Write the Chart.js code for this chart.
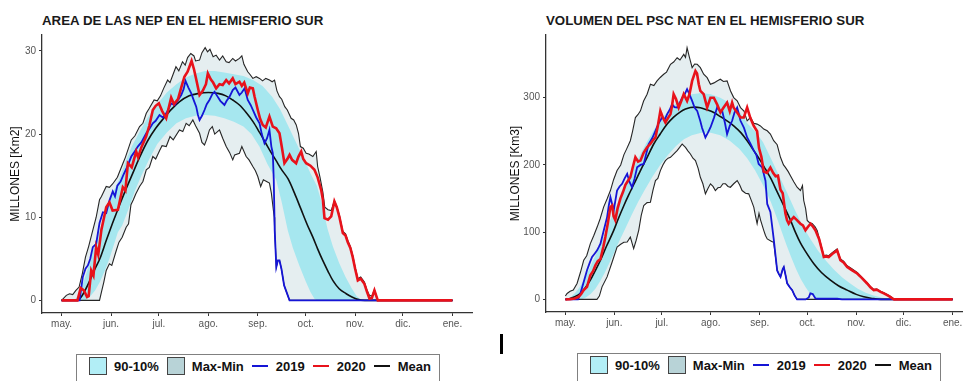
<!DOCTYPE html>
<html>
<head>
<meta charset="utf-8">
<script src="https://cdn.jsdelivr.net/npm/chart.js@4.4.1/dist/chart.umd.min.js"></script>
<style>
  html, body { margin: 0; padding: 0; width: 963px; height: 381px; overflow: hidden; background: #fff;
    font-family: Arial, "Liberation Sans", sans-serif; }
  canvas { position: absolute; top: 0; }
  .title { position: absolute; top: 13px; font-size: 13.3px; line-height: 16px; font-weight: bold; color: #1a1a1a; white-space: nowrap; }
  .legend { position: absolute; width: 364px; height: 40px; border: 1.5px solid #808080; background: #fff;
    box-sizing: border-box; padding: 2px 0 0 12px; display: flex; align-items: flex-start; white-space: nowrap; }
  .item { display: flex; align-items: center; height: 18px; font-weight: bold; font-size: 13px; color: #111; flex-shrink: 0; }
  .sq { width: 16px; height: 16px; border: 1.2px solid #444; margin-right: 7px; flex-shrink: 0; }
  .ln { width: 16px; height: 2.6px; margin-right: 8px; flex-shrink: 0; }
  .lab { margin-right: 8px; white-space: nowrap; }
  .bar { position: absolute; left: 500px; top: 334px; width: 3px; height: 20px; background: #000; }
</style>
</head>
<body>
<div class="title" style="left:42px">AREA DE LAS NEP EN EL HEMISFERIO SUR</div>
<div class="title" style="left:546px">VOLUMEN DEL PSC NAT EN EL HEMISFERIO SUR</div>
<canvas id="areaChart" width="480" height="340" style="left:0"></canvas>
<canvas id="volChart" width="472" height="340" style="left:500px"></canvas>
<div class="bar"></div>
<div class="legend" style="left:76px; top:354px"></div>
<div class="legend" style="left:577px; top:353px"></div>

<script>
// x axis: days counted from 1 May
const monthDays = [0, 31, 61, 92, 123, 153, 184, 214, 245];
const monthLabels = ['may.', 'jun.', 'jul.', 'ago.', 'sep.', 'oct.', 'nov.', 'dic.', 'ene.'];
const areaTicks = [0, 10, 20, 30];
const volTicks = [0, 100, 200, 300];
const legendLabels = ['90-10%', 'Max-Min', '2019', '2020', 'Mean'];

// AREA de las NEP (millones km2), [day, value]
const area2020 = [[0,0],[10,0],[12,1.5],[14,1.2],[16,0.4],[17,0.5],[18.6,3.6],[20,3.0],[21.7,6.4],[23,5.5],[25,8.5],[28,11.2],[30,11.8],[32,10.8],[35.3,10.9],[38.4,13.6],[40,13.2],[41.6,16.5],[44,16.0],[46.8,17.9],[48,17.2],[50,18.4],[53,19.7],[55,21.0],[57.2,22.9],[59,23.4],[61,23.7],[63,22.8],[65.6,21.9],[68.7,24.4],[70.5,23.6],[73,24.2],[75,25.6],[77,26.9],[79,27.5],[81.5,28.8],[83,27.8],[84.5,26.5],[86.5,24.7],[88.5,25.2],[90.5,26.0],[91.7,27.3],[93.5,26.6],[95,26.2],[96.9,25.5],[99,26.0],[101,25.9],[103.2,26.5],[105,26.1],[107.3,26.7],[109,26.0],[111.5,26.3],[113,25.8],[114.5,26.2],[116.7,24.9],[118,25.6],[119.9,25.5],[121,24.5],[123,22.9],[124.5,21.8],[126.1,21.1],[128,20.8],[130.3,22.1],[132.4,20.9],[134.5,20.7],[136.6,20.1],[138,18.5],[139.7,16.5],[141.5,17.0],[142.9,17.5],[144.5,16.9],[147,16.5],[148.5,17.3],[150.2,17.9],[151.5,17.0],[153.3,16.5],[156,16.2],[158.5,15.7],[160.5,14.8],[162.7,13.3],[163.8,12.1],[164.8,9.9],[167,9.7],[169,10.1],[171,11.9],[172.5,11.2],[174.2,10.0],[176.3,8.1],[178,7.8],[179.4,7.0],[181,6.3],[182.5,5.2],[184,3.8],[185.7,2.4],[187.5,2.6],[189.8,2.0],[191.5,1.0],[193,0.2],[194.5,0.3],[196.1,1.2],[198.2,0],[245,0]];
const area2019 = [[0,0],[11.3,0],[13.3,2.8],[15,3.8],[16.5,4.2],[18,5.0],[19.6,6.4],[21.7,6.8],[23.8,9.3],[25.9,10.6],[28,10.5],[30,12.0],[32.1,13.1],[33.5,12.5],[35,13.8],[37,14.3],[39,15.2],[41,16.0],[43.7,17.3],[45.5,17.8],[47.8,18.5],[50,19.0],[53.1,20.1],[55,20.6],[57.2,21.3],[59,21.6],[61.4,22.3],[63.5,22.0],[65.6,22.5],[67,23.0],[68.7,23.7],[71,23.5],[73,24.1],[75,24.7],[76.5,25.4],[77.7,26.4],[79.5,25.6],[81.3,24.9],[83,24.0],[84.4,23.3],[85.5,22.3],[86.5,21.7],[88,22.2],[89.6,22.9],[91,23.6],[92.7,24.1],[94.5,24.8],[95.9,25.1],[97.5,24.6],[99.5,24.0],[102.1,23.5],[103.5,24.0],[105.3,24.5],[107.3,25.3],[109,25.6],[111.5,24.7],[113,25.0],[114.7,25.5],[116.7,24.1],[118.5,23.5],[119.9,22.9],[122,22.0],[124.1,21.3],[125.5,20.0],[127.2,18.9],[128.8,19.5],[130.3,20.5],[131.5,18.5],[132.4,17.7],[133,14.5],[133.6,8.4],[134.6,4.0],[135.6,4.8],[136.6,4.8],[137.8,3.8],[139.5,1.8],[142.9,0],[245,0]];
const areaMean = [[0,0],[10,0],[12.3,0.4],[15,1.3],[18,2.5],[21,3.8],[24,5.0],[28,7.2],[32,9.3],[36,11.3],[40,13.2],[44,15.0],[48.9,17.2],[54,19.2],[59,20.7],[64,21.9],[69,23.0],[74,23.9],[80,24.6],[86,24.9],[92,25.0],[98,24.9],[103,24.6],[107.3,24.1],[111.5,23.5],[115.7,22.6],[120,21.5],[124.1,20.2],[128,18.9],[131,17.9],[134.5,16.8],[138,15.7],[142,14.6],[146,12.9],[150,11.0],[154,9.1],[157.5,7.6],[160.5,6.2],[163.7,4.8],[167,3.5],[170,2.4],[174,1.4],[178.4,0.8],[182,0.4],[185,0.15],[190,0],[245,0]];
const areaMax = [[0,0],[3,0.6],[5,0.8],[7,0.7],[9,1.2],[11,1.6],[13,3.2],[15,5.2],[17,6.5],[19,8.0],[21.7,10.0],[23.8,12.1],[25,12.5],[28,13.7],[30,13.6],[32,14.0],[35,14.8],[38.5,16.5],[40,17.2],[43.7,19.3],[46,19.8],[48.9,20.9],[51,21.3],[53.1,22.5],[55,23.1],[58,24.1],[60,24.0],[62,24.6],[64,25.5],[66.5,26.5],[68,26.2],[71.7,28.1],[73.5,27.6],[75.8,28.7],[77.5,28.3],[79,29.2],[81,29.7],[83,29.4],[84,28.8],[86.5,28.9],[88,29.8],[90,30.4],[91.5,29.9],[93,30.2],[95,29.3],[96.9,29.5],[99,28.9],[101,29.4],[103.2,28.7],[105,28.6],[107.3,29.1],[109,28.8],[111.5,29.1],[113,29.4],[114.3,28.4],[116.7,27.5],[118,27.2],[119.9,26.7],[122,26.9],[124.1,26.7],[126,26.4],[128,26.7],[130.3,26.5],[132,26.3],[133.5,26.5],[135,25.2],[136.6,24.5],[138,24.2],[139.9,23.3],[141.5,22.9],[143.9,21.9],[145.5,21.7],[147.1,21.1],[148.5,20.1],[149.7,18.5],[151.5,18.3],[153.3,17.7],[155,17.6],[157.5,17.3],[159.6,17.9],[160.5,16.1],[162,14.8],[163.8,13.0],[165,11.2],[167,10.9],[169,10.8],[171,12.0],[172.5,11.3],[174.2,10.2],[176.3,8.3],[178,8.0],[179.4,7.2],[181,6.5],[182.5,5.4],[184,4.0],[185.7,2.6],[187.5,2.8],[189.8,2.2],[191.5,1.2],[193,0.6],[194.5,0.5],[196.1,1.3],[198.2,0],[245,0]];
const areaMin = [[0,0],[23.8,0],[25,1.0],[26.5,2.2],[28,3.6],[30,4.4],[31.5,4.2],[34.3,6.0],[36,7.0],[38,7.6],[40.5,8.8],[42,9.2],[43.5,11.5],[45,12.1],[46.5,12.8],[48.9,13.7],[51,14.3],[53.1,15.7],[55,16.0],[57.2,17.3],[59,17.0],[61.4,18.0],[63,18.6],[65.6,18.5],[68,19.7],[70,19.3],[73.9,20.5],[76,20.3],[78.1,21.3],[80,21.0],[82.3,21.7],[84,21.0],[86.5,20.1],[88,19.0],[89.6,18.7],[91,19.4],[92.7,20.5],[94.5,20.9],[96,20.0],[99,20.5],[101,19.5],[103.2,18.5],[105.3,17.8],[107.3,16.9],[108.5,17.5],[111.5,17.7],[113,18.5],[115.7,17.3],[117.5,16.9],[119.9,16.1],[121.5,15.6],[123,14.9],[124.8,13.7],[126.5,14.5],[128.5,14.3],[130.3,14.1],[131.5,12.9],[133.3,10.0],[133.6,8.4],[134.6,4.0],[135.6,4.8],[136.6,4.8],[137.8,3.8],[139.5,1.8],[142.9,0],[245,0]];
const areaP90 = [[0,0],[8,0],[10,0.5],[13,1.8],[16,3.5],[19,5.5],[22,7.5],[25,9.0],[28,10.8],[32,12.9],[36,14.5],[40,16.6],[44,18.5],[49,20.3],[54,22.0],[60,23.6],[66,25.0],[72,26.0],[78,26.8],[84,27.3],[90,27.6],[96,27.6],[102,27.4],[108,27.2],[114,27.0],[120,26.5],[126,25.8],[132,24.5],[137,23.0],[142,21.0],[147,19.0],[152,17.0],[156,15.3],[160,13.8],[163,11.8],[166.7,8.6],[170,6.5],[174,4.5],[178,2.8],[182,1.4],[185,0.5],[188,0],[245,0]];
const areaP10 = [[0,0],[15,0],[18,0.5],[21,1.2],[24,2.2],[27,3.5],[30,5.0],[33,6.8],[35.3,8.2],[38,9.0],[42,11.0],[46,13.2],[50,15.0],[55,17.0],[60,18.8],[66,20.2],[72,21.3],[78,21.9],[84,22.2],[90,22.3],[96,22.2],[102,21.9],[108,21.5],[114,20.9],[119,20.0],[124,18.5],[129,16.4],[134.5,14.5],[138,11.8],[141.8,8.4],[145,6.3],[149,4.2],[153,2.3],[156,1.0],[158.5,0.2],[160,0],[245,0]];

// VOLUMEN del PSC NAT (millones km3), [day, value]
const vol2020 = [[0,0],[3,0.5],[6,1.5],[8.4,3.9],[10,8],[11.6,13.8],[13.7,18.7],[15.8,36],[17.5,42],[19,50.8],[20.5,57],[22.2,60],[24,78],[25.3,92.7],[27,115],[28.5,137.2],[29.6,139.7],[30.5,124],[31.6,118],[33,135],[34.8,150],[36.5,160],[38,170.5],[39.5,176],[41.1,181.6],[42.5,195],[44.3,211.3],[46,205],[47.5,206.4],[49.5,218],[51.7,226.1],[54,232],[55.5,237],[57,240.9],[58.5,258],[60.1,280.4],[61.8,270],[63.3,263.1],[65,270],[66.5,275.6],[67.5,288],[68.5,305.2],[70,298],[71.7,285.3],[73.5,296],[74.9,305.2],[77,295.3],[78.5,305],[80.2,324.9],[82.3,339.7],[83.3,336],[84.4,320],[85.4,310],[87.5,305.2],[89.7,285.3],[91.8,300],[93.9,300],[96,290],[98.1,277.9],[100,285],[102.3,292.7],[104,280],[105.5,292.7],[106.5,285],[108.7,277.9],[110.8,270.5],[112.9,270.5],[115,285.3],[117,270],[119.2,258],[121.3,250],[122.5,225],[124,212],[125.5,190],[127.5,188],[129.7,196],[131.5,188],[133,183],[134.5,184],[136.1,163],[137.5,158],[139.2,128],[140.2,118],[141.3,112.6],[142.8,118],[144.5,122.4],[146.5,118],[148.7,112.6],[150.3,110],[151.9,102.7],[153.5,108],[155.1,112.6],[156.7,108],[158.2,102.7],[160.5,90],[163.5,63.1],[165,64],[166.6,63.1],[169,68],[171.9,73],[174,58.2],[176,55],[178.3,48.3],[181,44],[184.6,38.5],[187.5,32],[190.9,23.7],[193,18],[195.1,13.8],[197,14.5],[199.4,11.3],[201.5,9],[203.6,6.4],[205,4.5],[206.8,1.5],[208,0],[245,0]];
const vol2019 = [[0,0],[8,0],[9.5,8.9],[11.5,25],[13.7,43.4],[15.5,55],[16.9,63.1],[18.5,68],[20.1,73],[21.2,78],[22.2,83],[24,100],[26.4,122.4],[27.5,140],[28.5,152],[30.6,132.3],[32.7,161.9],[34.3,168],[35.9,171.9],[37.5,180],[39.1,186.7],[40.5,175],[42.2,166.8],[43.8,180],[45.4,196.4],[47.5,200],[49.6,201.5],[51,215],[52.7,231.1],[55,240],[57,250.8],[59,262],[61.2,270.5],[63,268],[64.4,275.6],[66,282],[67.5,290.4],[69,286],[70.7,285.3],[72.3,292],[73.9,300.1],[75.5,305],[77,312.6],[78.5,305],[80.2,295.3],[81.8,285],[83.4,280.4],[85.4,265],[86.5,255],[88.6,240.9],[90.2,248],[91.8,255.7],[94,270],[96,285.3],[98,280],[99.2,280.4],[101,262],[102.3,245.9],[104,258],[105.5,265.6],[107,278],[108.7,285.3],[110.8,265.6],[113,255],[115,240.9],[117,232],[119.2,221.2],[120.8,215],[122.3,201.5],[124.5,196.4],[126.6,176.6],[127.7,142],[129.7,130],[131.8,90],[134,43],[135,38],[136.1,33.5],[137.5,45],[138.2,48],[139.3,36],[140.3,24],[142,18],[143.5,13.8],[145,6],[146.6,0],[152,0],[154,3],[155,8.9],[156.5,8],[158.2,1.5],[160,1],[172,1],[175,0],[245,0]];
const volMean = [[0,0],[3,1.5],[6,4],[9.5,8.9],[12.5,17],[15.8,28.6],[19,43],[22.2,58.2],[26,79],[30.6,102.7],[33.5,120],[36.9,139],[40,155],[43.5,172],[47.5,191.6],[51.5,210],[55.9,231.1],[60,246],[64.4,260.7],[68.5,271],[72.8,279],[76,283],[79.1,285.3],[82,286],[85.4,285],[89.5,282],[93.9,277.9],[98,272],[102,266],[106.5,258.2],[111,248],[115,236],[119,222],[123.4,206.4],[126.5,194],[129.7,181],[134,160],[138,140],[142.4,118],[145.5,100],[148.7,84],[152,71],[157.2,53],[162,40],[167.7,28.6],[173,20],[178.3,13.8],[184,7.5],[188.8,3.9],[194,1.5],[199.4,0],[245,0]];
const volMax = [[0,5],[1.1,8.9],[3,12],[5,14],[7.4,23.7],[9.5,40],[11.6,58.2],[13.5,65],[15.8,83],[18,95],[20.1,107.6],[22,120],[24.2,137.2],[26.5,150],[28.5,161.9],[30.5,178],[32.7,191.6],[35,200],[37,215],[39,225],[41.1,236],[42.5,250],[44.3,270.5],[46,275],[47.5,280.4],[49.5,295],[51.7,305.2],[53.8,320],[56,318],[58,324.9],[60,330],[62.2,334.8],[64,338],[66.5,349.6],[68.5,353],[70.7,359.4],[72.5,356],[74.9,364.4],[76,360],[77,374.2],[78.5,360],[80.2,344.6],[81.8,350],[83.4,349.6],[85.4,344.6],[87.5,335],[89.7,329.8],[91.8,320],[94,322],[96,324.9],[98,327.4],[100,324],[102.3,324.9],[104.5,310],[106.5,300.1],[108.7,295.3],[110.8,285.3],[113,280],[115,265.6],[117.1,270.5],[119.2,262],[121.3,260.7],[123.4,258],[125.5,253.3],[127.7,250.8],[129.7,245.9],[131.8,236],[134,230],[136.1,211.3],[138,200],[139.2,196.4],[141,190],[142.4,184],[144.5,175],[146.6,166.8],[148.7,162],[150,169.3],[150.8,147.1],[152,135],[153,117.5],[154.5,114],[156.1,113],[158,108],[159.3,102.7],[160.5,92],[163.5,65],[165,66],[166.6,65],[169,70],[171.9,75],[174,60],[176,57],[178.3,50],[181,46],[184.6,40],[187.5,33],[190.9,25],[193,19],[195.1,15],[197,15.5],[199.4,12.3],[201.5,10],[203.6,7.4],[205,5.5],[206.8,2.5],[208,0],[245,0]];
const volMin = [[0,0],[20,0],[21.5,5],[23.2,18.7],[26.4,33.5],[29.6,55.7],[32.7,78],[35,82],[37,85],[39.1,85.4],[41.1,92.7],[43.2,75.6],[44.8,88],[46.4,102.7],[48,125],[49.6,139.7],[51.7,144],[53.8,144.6],[55.4,162],[57,176.7],[58.5,180],[60.1,191.6],[61.7,200],[63.3,206.4],[65,210],[66.5,211.3],[68.5,216],[70.7,221.2],[72.3,226],[73.9,231.1],[76,226.1],[77.5,221],[79.1,216.3],[80.7,210],[82.3,206.4],[84,195],[85.4,181.6],[87,172],[88.6,157],[90.2,165],[91.8,171.9],[93.4,168],[94.9,161.9],[96.5,166],[98.1,166.8],[99.7,172],[101.3,171.9],[102.9,168],[104.4,166.8],[106.5,172],[108.7,176.7],[110.3,170],[111.8,161.9],[114,158],[116,157],[117.5,148],[119.2,137.2],[120.2,125],[121.3,112.6],[122.5,128],[123.5,118],[125.5,102.7],[126.6,95],[127.7,90],[130.5,86],[131.8,85],[134,43],[135,38],[136.1,33.5],[137.5,45],[138.2,48],[139.3,36],[140.3,24],[142,18],[143.5,13.8],[145,6],[146.6,0],[245,0]];
const volP90 = [[0,0],[3,3],[6,9],[9,18],[12,30],[15,45],[18,60],[21,76],[24,93],[27,110],[30,127],[33,143],[36,160],[40,180],[44,200],[48,218],[52,236],[56,252],[60,266],[65,280],[70,292],[75,300],[80,305],[86,307],[92,305],[98,300],[104,292],[110,280],[115,262],[120,250],[125,234],[130,210],[135,185],[140,160],[145,134],[150,110],[155,90],[160,72],[165,57],[170,44],[175,33],[180,24],[185,16],[190,10],[195,6],[200,3],[205,1],[210,0],[245,0]];
const volP10 = [[0,0],[10,0],[13,3],[16,8],[19,16],[22,27],[25,40],[28,55],[31,70],[34,86],[38,106],[42,126],[46,145],[50,162],[55,182],[60,200],[65,215],[70,228],[75,238],[80,244],[86,248],[92,248],[98,244],[104,236],[110,224],[115,210],[120,192],[125,170],[130,145],[134,120],[137,100],[140,80],[143,62],[146,45],[149,30],[152,18],[155,8],[158,2],[161,0],[245,0]];

const RED = '#e8121b';
const BLUE = '#1515d6';
const CYAN = '#a6e7ef';
const GREY = '#e5eef0';
const AXIS = '#333333';

Chart.defaults.font.family = 'Arial, "Liberation Sans", sans-serif';

function buildChart(canvasId, s, yTicks, yMin, yMax, yTitle, yWidth, padRight, xHeight) {
    const ctx = document.getElementById(canvasId).getContext('2d');
    return new Chart(ctx, {
        type: 'line',
        data: {
            datasets: [
                { label: '2020', data: s.y2020, borderColor: RED, borderWidth: 2.6, fill: false, order: 0 },
                { label: '2019', data: s.y2019, borderColor: BLUE, borderWidth: 1.8, fill: false, order: 1 },
                { label: 'Mean', data: s.mean, borderColor: '#111', borderWidth: 1.6, fill: false, order: 2,
                  cubicInterpolationMode: 'monotone' },
                { label: '90%', data: s.p90, borderColor: 'rgba(0,0,0,0)', backgroundColor: CYAN, fill: 4, order: 3 },
                { label: '10%', data: s.p10, borderColor: 'rgba(0,0,0,0)', fill: false, order: 4 },
                { label: 'Max', data: s.max, borderColor: '#262626', borderWidth: 1.1, backgroundColor: GREY, fill: 6, order: 5 },
                { label: 'Min', data: s.min, borderColor: '#262626', borderWidth: 1.1, fill: false, order: 6 }
            ]
        },
        options: {
            responsive: false,
            animation: false,
            elements: { point: { radius: 0 }, line: { tension: 0 } },
            layout: { padding: { top: 35, right: padRight, left: 0, bottom: 0 } },
            plugins: {
                legend: { display: false },
                tooltip: { enabled: false },
                filler: { drawTime: 'beforeDatasetsDraw' }
            },
            scales: {
                x: {
                    type: 'linear',
                    min: -12.25,
                    max: 257.25,
                    afterBuildTicks: ax => { ax.ticks = monthDays.map(v => ({ value: v })); },
                    afterFit: ax => { ax.height = xHeight; },
                    ticks: {
                        autoSkip: false, maxRotation: 0, padding: 2, color: '#555',
                        font: { size: 10 },
                        callback: v => monthLabels[monthDays.indexOf(v)]
                    },
                    grid: { display: true, drawOnChartArea: false, drawTicks: true, tickLength: 3, color: AXIS },
                    border: { display: true, color: AXIS, width: 1.3 }
                },
                y: {
                    min: yMin,
                    max: yMax,
                    afterBuildTicks: ax => { ax.ticks = yTicks.map(v => ({ value: v })); },
                    afterFit: ax => { ax.width = yWidth; },
                    ticks: { padding: 3, color: '#555', font: { size: 10 } },
                    grid: { display: true, drawOnChartArea: false, drawTicks: true, tickLength: 3, color: AXIS },
                    border: { display: true, color: AXIS, width: 1.3 },
                    title: { display: true, text: yTitle, color: '#111', font: { size: 12 }, padding: { top: 8, bottom: 0 } }
                }
            }
        }
    });
}

function buildLegend(box) {
    const keys = [
        { sq: '#b2eef6' },
        { sq: '#b8d3d7' },
        { ln: BLUE },
        { ln: RED },
        { ln: '#111' }
    ];
    keys.forEach((k, i) => {
        const item = document.createElement('div');
        item.className = 'item';
        const key = document.createElement('div');
        if (k.sq) { key.className = 'sq'; key.style.background = k.sq; }
        else { key.className = 'ln'; key.style.background = k.ln; }
        const lab = document.createElement('span');
        lab.className = 'lab';
        lab.textContent = legendLabels[i];
        item.appendChild(key);
        item.appendChild(lab);
        box.appendChild(item);
    });
}

buildChart('areaChart',
    { y2020: area2020, y2019: area2019, mean: areaMean, max: areaMax, min: areaMin, p90: areaP90, p10: areaP10 },
    areaTicks, -1.52, 31.92, 'MILLONES [Km2]', 42, 8, 27);
buildChart('volChart',
    { y2020: vol2020, y2019: vol2019, mean: volMean, max: volMax, min: volMin, p90: volP90, p10: volP10 },
    volTicks, -18.7, 393.2, 'MILLONES [Km3]', 46, 0, 28);

document.querySelectorAll('.legend').forEach(buildLegend);
</script>
</body>
</html>
